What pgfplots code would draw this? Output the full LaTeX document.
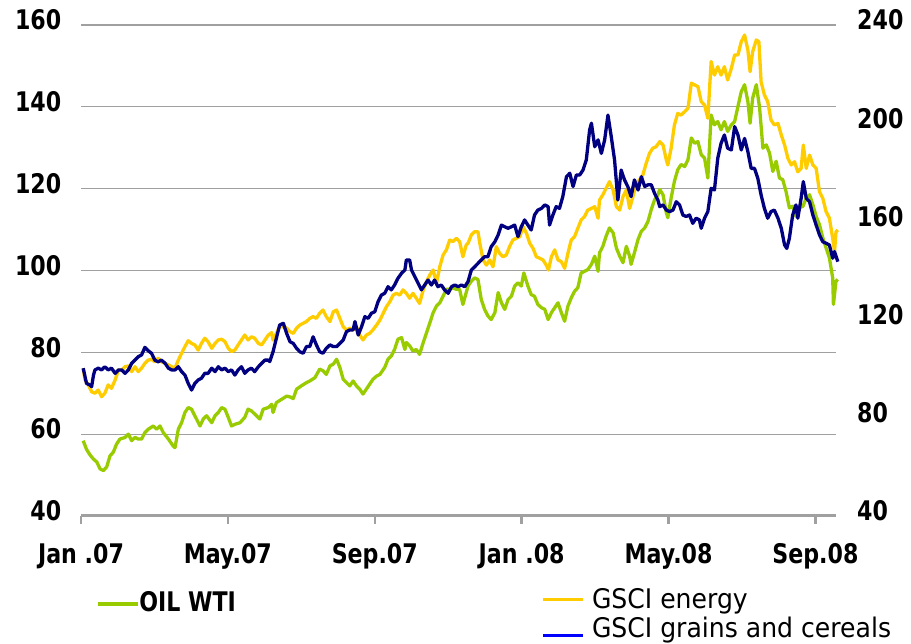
\documentclass[border=0pt]{standalone}
\usepackage{fontspec}
\setmainfont{DejaVu Sans}[FakeStretch=0.93]
\newfontfamily\condfont{DejaVu Sans}[FakeStretch=0.82]
\usepackage{pgfplots}
\pgfplotsset{compat=1.18}
\definecolor{oilgreen}{RGB}{153,204,0}
\definecolor{gsciyellow}{RGB}{255,204,0}
\definecolor{gscinavy}{RGB}{0,0,128}
\definecolor{gridgray}{RGB}{160,160,160}
\newcommand{\tickfont}{\fontsize{27}{32}\selectfont\condfont\bfseries}
\newcommand{\legfont}{\fontsize{27}{32}\selectfont}
\pgfplotsset{
  base/.style={
    width=755pt, height=491pt, scale only axis,
    at={(81pt,128pt)}, anchor=south west,
    xmin=0, xmax=20.56, clip=false,
    /pgf/number format/assume math mode=true,
    tick label style={font=\tickfont},
    legend style={draw=none, fill=none, inner sep=0pt, outer sep=0pt,
      nodes={inner sep=0pt}, cells={anchor=base west, inner sep=0pt}, row sep=7pt},
  },
  legA/.style={legend image code/.code={\draw[##1] (0pt,7.4pt) -- (40pt,7.4pt);}},
  legB/.style={legend image code/.code={\draw[##1] (0pt,9.4pt) -- (40pt,9.4pt);}},
  legC/.style={legend image code/.code={\draw[##1] (0pt,2.0pt) -- (40pt,2.0pt);}},
}
\begin{document}
\begin{tikzpicture}[x=1pt,y=1pt]
\useasboundingbox (0,0) rectangle (911,644);
\begin{axis}[base,
  ymin=40, ymax=160,
  axis x line*=bottom, axis y line*=left,
  y axis line style={draw=none},
  x axis line style={draw=gridgray, line width=3pt, -},
  xtick={0,4,8,12,16,20},
  xticklabels={Jan .07,May.07,Sep.07,Jan .08,May.08,Sep.08},
  xtick align=outside, major tick length=8pt,
  xtick style={draw=gridgray, line width=2.5pt},
  ytick={40,60,...,160}, ytick style={draw=none},
  ymajorgrids, grid style={gridgray, line width=1.3pt},
  yticklabel style={anchor=east, inner sep=0pt, xshift=-19.5pt, yshift=5pt},
  xticklabel style={anchor=north, inner sep=0pt, yshift=-19pt},
  legend style={at={(axis description cs:0.0199,-0.1532)}, anchor=north west,
    column sep=0pt, font=\legfont\condfont\bfseries},
]
\addplot[oilgreen, line width=3.3pt, line join=round, legA] coordinates {
(0.06,58.4)(0.15,56.3)(0.24,55.0)(0.34,53.9)(0.43,53.2)(0.52,51.5)(0.61,51.1)(0.70,52.0)(0.79,54.7)(0.88,55.6)(0.97,57.6)(1.06,58.8)(1.20,59.2)(1.29,60.0)(1.38,58.4)(1.47,59.2)(1.56,58.8)(1.65,58.8)(1.74,60.4)(1.83,61.2)(1.97,62.0)(2.06,61.2)(2.15,62.0)(2.24,60.4)(2.38,58.8)(2.51,57.1)(2.56,56.7)(2.65,61.2)(2.74,62.8)(2.83,65.3)(2.92,66.5)(3.01,66.1)(3.10,64.5)(3.24,62.0)(3.33,63.7)(3.42,64.5)(3.56,62.8)(3.65,64.5)(3.74,65.3)(3.83,66.5)(3.92,66.1)(4.01,64.1)(4.10,62.0)(4.19,62.4)(4.33,62.8)(4.46,64.1)(4.55,66.1)(4.64,65.7)(4.78,64.5)(4.87,63.7)(4.96,66.1)(5.10,66.5)(5.19,67.3)(5.23,65.3)(5.32,67.7)(5.46,68.5)(5.60,69.3)(5.69,69.1)(5.78,68.7)(5.87,71.0)(6.00,71.8)(6.14,72.6)(6.23,73.0)(6.37,73.8)(6.50,75.9)(6.59,75.5)(6.68,74.6)(6.78,76.7)(6.87,77.1)(6.96,78.3)(7.05,76.3)(7.14,73.4)(7.23,72.6)(7.32,71.8)(7.41,73.0)(7.50,71.8)(7.59,71.0)(7.68,69.8)(7.77,71.0)(7.86,72.2)(7.95,73.4)(8.05,74.2)(8.14,74.6)(8.27,76.3)(8.36,78.3)(8.45,79.1)(8.54,80.7)(8.63,83.2)(8.73,83.6)(8.82,80.7)(8.86,82.4)(8.95,81.6)(9.04,80.3)(9.13,80.7)(9.22,79.5)(9.32,82.4)(9.41,84.8)(9.50,87.2)(9.59,89.7)(9.68,91.3)(9.77,92.1)(9.86,93.7)(9.95,95.4)(10.04,95.4)(10.13,95.8)(10.22,95.4)(10.31,95.4)(10.40,91.7)(10.49,94.6)(10.54,96.2)(10.63,97.4)(10.72,98.2)(10.81,97.8)(10.90,92.9)(10.99,90.5)(11.08,88.9)(11.17,88.0)(11.27,89.7)(11.36,94.6)(11.45,92.1)(11.54,90.5)(11.63,92.9)(11.72,93.7)(11.81,96.2)(11.90,97.0)(11.99,96.2)(12.06,99.4)(12.17,96.2)(12.26,94.1)(12.35,93.7)(12.44,91.7)(12.54,90.9)(12.63,90.5)(12.72,88.0)(12.81,89.7)(12.90,90.9)(12.99,92.1)(13.08,89.7)(13.17,87.6)(13.26,91.3)(13.35,93.3)(13.44,94.9)(13.53,95.8)(13.62,99.4)(13.71,99.8)(13.80,100.2)(13.90,101.5)(13.99,103.5)(14.08,99.8)(14.12,104.3)(14.21,105.9)(14.30,108.4)(14.39,110.4)(14.49,109.2)(14.58,105.5)(14.67,103.5)(14.76,101.9)(14.85,105.9)(14.94,103.5)(14.98,101.5)(15.07,104.3)(15.17,107.6)(15.26,109.6)(15.35,110.4)(15.44,112.0)(15.53,114.9)(15.62,117.3)(15.71,118.5)(15.76,119.8)(15.85,118.5)(15.94,114.1)(15.98,112.9)(16.07,117.7)(16.16,121.8)(16.25,124.6)(16.34,125.9)(16.44,125.4)(16.53,127.1)(16.62,132.4)(16.71,131.1)(16.80,131.5)(16.89,128.3)(16.98,127.5)(17.07,122.6)(17.16,138.0)(17.25,135.6)(17.34,136.4)(17.43,134.4)(17.52,136.4)(17.61,134.0)(17.71,135.6)(17.80,136.4)(17.89,140.1)(17.98,143.7)(18.07,145.4)(18.16,141.3)(18.22,136.0)(18.29,142.1)(18.39,145.4)(18.48,139.7)(18.57,129.9)(18.66,130.7)(18.75,128.7)(18.84,124.2)(18.93,126.7)(19.02,122.6)(19.11,122.2)(19.20,119.3)(19.29,115.3)(19.38,115.7)(19.47,113.2)(19.56,115.3)(19.66,115.7)(19.75,117.7)(19.84,118.5)(19.93,116.1)(20.02,113.2)(20.11,111.2)(20.20,108.0)(20.29,105.5)(20.38,103.1)(20.47,98.2)(20.49,91.7)(20.56,97.4)(20.61,97.8)
};
\addlegendentry{OIL WTI}
\end{axis}
\begin{axis}[base,
  ymin=40, ymax=240,
  axis x line=none, axis y line*=right,
  y axis line style={draw=none},
  ytick={40,80,...,240}, ytick style={draw=none},
  yticklabel style={anchor=west, inner sep=0pt, xshift=21pt, yshift=5pt},
  legend style={at={(axis description cs:0.6102,-0.1477)}, anchor=north west,
    column sep=7pt, font=\legfont},
]
\addplot[gsciyellow, line width=3.3pt, line join=round, legB] coordinates {
(0.06,100.2)(0.11,95.4)(0.20,93.4)(0.29,90.6)(0.38,90.0)(0.47,91.3)(0.56,88.6)(0.65,90.0)(0.74,93.4)(0.83,92.0)(0.93,95.4)(1.02,99.5)(1.11,99.5)(1.20,100.8)(1.29,101.1)(1.38,98.8)(1.47,100.8)(1.56,98.8)(1.65,100.2)(1.74,102.2)(1.83,103.5)(1.92,103.8)(2.01,102.8)(2.10,104.2)(2.19,102.8)(2.29,102.2)(2.38,101.5)(2.47,100.8)(2.56,100.2)(2.65,103.5)(2.74,106.3)(2.83,109.0)(2.92,111.4)(3.01,110.3)(3.10,109.7)(3.19,107.6)(3.28,110.3)(3.37,112.4)(3.46,111.0)(3.56,108.3)(3.65,110.3)(3.74,111.7)(3.83,112.0)(3.92,111.0)(4.01,108.3)(4.10,107.0)(4.19,107.6)(4.28,109.7)(4.37,111.7)(4.46,113.7)(4.55,111.7)(4.64,113.0)(4.73,112.4)(4.83,110.3)(4.92,109.7)(5.01,111.7)(5.10,113.7)(5.19,114.7)(5.23,111.7)(5.32,114.4)(5.41,117.1)(5.51,117.1)(5.60,116.5)(5.69,115.1)(5.78,114.4)(5.87,116.5)(5.96,117.8)(6.05,118.5)(6.14,119.2)(6.23,120.5)(6.32,121.2)(6.41,120.5)(6.50,122.6)(6.59,123.9)(6.68,121.2)(6.78,119.2)(6.87,123.2)(6.96,123.9)(7.05,120.5)(7.14,117.1)(7.23,115.8)(7.32,116.5)(7.41,115.8)(7.50,117.1)(7.59,113.7)(7.68,111.7)(7.77,113.7)(7.86,114.4)(7.95,115.8)(8.05,117.8)(8.14,119.8)(8.23,122.6)(8.32,125.3)(8.41,127.3)(8.50,130.0)(8.59,130.7)(8.68,130.0)(8.77,132.1)(8.86,130.7)(8.95,128.7)(9.04,130.7)(9.13,128.7)(9.22,126.6)(9.32,132.1)(9.41,135.5)(9.50,138.2)(9.59,140.2)(9.68,134.8)(9.77,141.5)(9.86,146.3)(9.95,148.4)(10.04,152.4)(10.13,151.8)(10.22,153.1)(10.31,151.8)(10.40,145.6)(10.49,150.4)(10.54,151.1)(10.63,154.5)(10.72,155.8)(10.81,155.8)(10.86,151.1)(10.95,144.3)(11.04,142.2)(11.13,144.3)(11.22,141.5)(11.31,149.7)(11.40,147.0)(11.49,145.6)(11.58,146.3)(11.67,149.7)(11.76,152.4)(11.85,153.1)(11.95,153.8)(12.04,157.8)(12.13,155.2)(12.22,151.1)(12.31,149.0)(12.40,145.6)(12.49,145.0)(12.58,144.3)(12.67,142.2)(12.73,140.2)(12.81,145.6)(12.90,148.4)(12.99,144.3)(13.08,143.6)(13.17,140.9)(13.26,147.0)(13.35,152.4)(13.44,153.8)(13.53,157.2)(13.62,160.6)(13.71,161.9)(13.80,164.6)(13.90,165.3)(13.99,166.0)(14.08,161.3)(14.12,168.7)(14.21,170.8)(14.30,173.5)(14.39,176.2)(14.49,172.8)(14.58,166.0)(14.67,164.6)(14.76,170.1)(14.85,172.8)(14.94,165.3)(15.03,170.1)(15.12,175.5)(15.21,176.9)(15.30,178.9)(15.39,183.6)(15.48,187.7)(15.57,189.8)(15.66,190.4)(15.76,192.5)(15.85,191.1)(15.94,185.0)(15.98,183.0)(16.07,189.8)(16.16,199.3)(16.25,204.0)(16.34,203.3)(16.44,204.7)(16.53,206.1)(16.62,216.3)(16.71,215.6)(16.80,214.9)(16.89,208.8)(16.98,207.4)(17.07,202.0)(17.16,225.1)(17.25,219.6)(17.34,223.0)(17.43,219.6)(17.52,223.0)(17.61,217.6)(17.71,222.3)(17.80,227.8)(17.89,227.8)(17.98,233.2)(18.07,235.9)(18.16,229.8)(18.22,221.0)(18.29,229.1)(18.39,233.9)(18.46,233.2)(18.52,216.9)(18.61,211.5)(18.70,208.8)(18.79,201.3)(18.88,199.3)(18.98,199.9)(19.07,195.2)(19.16,191.1)(19.25,185.7)(19.34,183.0)(19.43,184.3)(19.52,180.2)(19.61,181.6)(19.67,191.1)(19.75,181.6)(19.84,187.0)(19.93,183.0)(20.02,181.6)(20.11,172.1)(20.20,169.4)(20.29,164.0)(20.38,161.3)(20.47,153.1)(20.52,147.7)(20.56,155.8)(20.61,156.5)
};
\addlegendentry{GSCI energy}
\addplot[gscinavy, line width=3.3pt, line join=round, forget plot] coordinates {
(0.06,100.2)(0.15,94.0)(0.24,93.4)(0.29,92.7)(0.34,97.4)(0.38,99.5)(0.47,100.2)(0.56,99.5)(0.65,100.8)(0.74,99.5)(0.83,100.2)(0.93,98.1)(1.02,99.5)(1.11,99.5)(1.20,98.1)(1.29,99.5)(1.38,102.2)(1.47,103.5)(1.56,104.9)(1.65,105.6)(1.74,108.7)(1.83,107.3)(1.92,106.3)(2.01,103.5)(2.10,102.8)(2.19,103.5)(2.29,102.2)(2.38,100.2)(2.47,99.5)(2.56,99.5)(2.65,100.8)(2.74,98.8)(2.83,97.4)(2.92,94.0)(3.01,91.3)(3.10,94.0)(3.19,95.4)(3.28,96.1)(3.37,98.1)(3.46,98.1)(3.56,100.2)(3.65,98.8)(3.74,100.8)(3.83,99.5)(3.92,100.2)(4.01,98.8)(4.10,99.5)(4.19,97.4)(4.28,99.5)(4.37,100.8)(4.46,98.1)(4.55,99.5)(4.64,100.2)(4.73,98.8)(4.83,100.8)(4.92,102.2)(5.01,103.5)(5.10,103.5)(5.14,102.9)(5.23,106.9)(5.32,112.4)(5.41,117.8)(5.51,118.5)(5.60,114.4)(5.69,111.0)(5.78,110.3)(5.87,108.3)(5.96,106.9)(6.05,106.3)(6.14,109.0)(6.23,109.0)(6.32,113.0)(6.41,109.7)(6.50,106.9)(6.59,106.3)(6.68,108.3)(6.78,109.7)(6.87,109.0)(6.96,109.0)(7.05,110.3)(7.14,111.7)(7.23,115.1)(7.32,115.8)(7.41,115.8)(7.46,119.2)(7.55,113.7)(7.64,117.1)(7.73,121.2)(7.82,120.5)(7.91,122.6)(8.00,123.2)(8.09,127.3)(8.18,130.0)(8.27,130.7)(8.36,133.4)(8.45,132.1)(8.54,134.1)(8.63,136.8)(8.73,138.9)(8.82,140.2)(8.86,144.3)(8.95,144.3)(9.00,140.2)(9.09,137.5)(9.18,134.8)(9.27,132.1)(9.36,134.1)(9.45,136.1)(9.54,134.1)(9.63,136.1)(9.72,133.4)(9.81,134.1)(9.90,132.1)(10.00,130.7)(10.09,133.4)(10.18,134.1)(10.27,133.4)(10.36,134.1)(10.45,133.4)(10.54,135.5)(10.63,140.2)(10.72,141.5)(10.81,142.9)(10.90,144.3)(10.99,145.6)(11.08,145.6)(11.17,149.7)(11.27,151.7)(11.36,154.5)(11.45,158.5)(11.54,157.8)(11.63,157.2)(11.72,157.8)(11.81,158.5)(11.90,153.8)(11.99,157.8)(12.08,160.6)(12.17,158.5)(12.26,156.5)(12.35,162.6)(12.44,164.6)(12.54,165.3)(12.63,166.7)(12.72,166.0)(12.76,158.5)(12.85,162.6)(12.94,166.0)(13.03,165.3)(13.12,170.1)(13.22,178.2)(13.31,179.6)(13.40,174.2)(13.49,178.9)(13.58,178.9)(13.67,180.9)(13.76,185.0)(13.85,197.2)(13.90,200.0)(13.99,190.4)(14.08,193.2)(14.17,187.7)(14.26,193.2)(14.35,203.3)(14.44,194.5)(14.53,185.0)(14.62,168.7)(14.71,180.9)(14.80,176.9)(14.89,174.2)(14.98,170.1)(15.07,176.9)(15.17,172.8)(15.26,178.2)(15.35,174.2)(15.44,174.9)(15.53,174.9)(15.62,171.4)(15.71,168.7)(15.76,166.0)(15.85,166.7)(15.94,164.6)(16.03,164.0)(16.12,164.6)(16.21,168.0)(16.30,166.7)(16.39,162.6)(16.48,162.0)(16.57,162.6)(16.66,159.2)(16.75,161.3)(16.84,160.6)(16.89,157.2)(16.98,161.3)(17.07,164.0)(17.16,173.5)(17.25,172.8)(17.34,185.7)(17.43,191.8)(17.52,195.2)(17.61,189.8)(17.71,189.1)(17.80,198.6)(17.89,195.2)(17.98,189.1)(18.07,193.8)(18.16,188.4)(18.25,181.6)(18.34,181.6)(18.43,177.6)(18.52,170.8)(18.61,165.3)(18.70,161.3)(18.79,164.0)(18.88,164.6)(18.98,161.3)(19.07,157.2)(19.16,150.4)(19.22,149.0)(19.29,153.1)(19.38,162.6)(19.47,166.7)(19.52,161.3)(19.61,169.4)(19.67,176.2)(19.75,169.4)(19.84,168.0)(19.93,162.6)(20.02,158.5)(20.11,154.5)(20.20,151.7)(20.29,151.1)(20.38,150.4)(20.47,145.0)(20.52,147.7)(20.61,143.6)
};
\addlegendimage{blue, line width=3.3pt, legC}
\addlegendentry{GSCI grains and cereals}
\end{axis}
\end{tikzpicture}
\end{document}
